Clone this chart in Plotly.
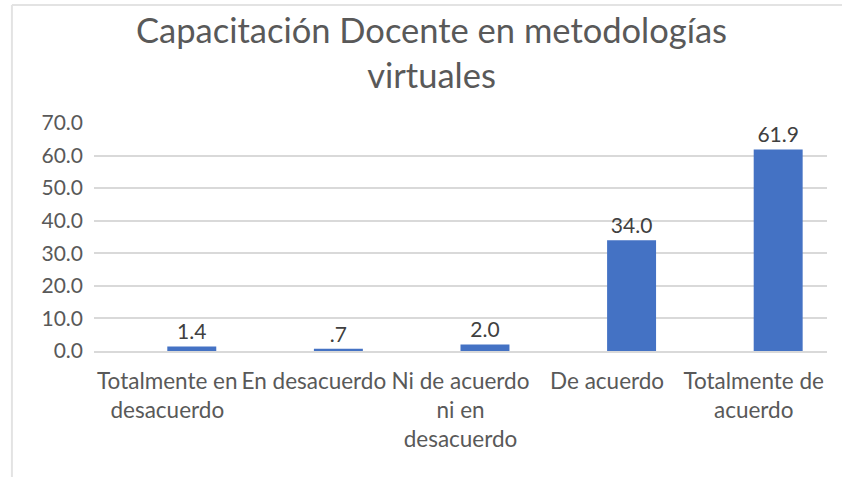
import plotly.graph_objects as go

categories = [
    "Totalmente en<br>desacuerdo",
    "En desacuerdo",
    "Ni de acuerdo<br>ni en<br>desacuerdo",
    "De acuerdo",
    "Totalmente de<br>acuerdo",
]
values = [1.4, 0.7, 2.0, 34.0, 61.9]
value_labels = ["1.4", ".7", "2.0", "34.0", "61.9"]
y_tickvals = [0, 10, 20, 30, 40, 50, 60, 70]
y_ticktext = ["0.0", "10.0", "20.0", "30.0", "40.0", "50.0", "60.0", "70.0"]
title_text = "Capacitación Docente en metodologías<br>virtuales"

FONT = "Lato"
GRAY = "#595959"

fig = go.Figure(
    go.Bar(
        x=categories,
        y=values,
        text=value_labels,
        textposition="outside",
        textfont=dict(family=FONT, size=21, color="#404040"),
        marker=dict(color="#4472C4", line=dict(width=0)),
        width=0.334,
        offset=0,
        cliponaxis=False,
        hoverinfo="skip",
    )
)

fig.update_layout(
    width=842,
    height=477,
    margin=dict(l=94, r=15, t=123, b=126, autoexpand=False),
    paper_bgcolor="white",
    plot_bgcolor="white",
    showlegend=False,
    font=dict(family=FONT, color=GRAY),
    annotations=[
        dict(
            text=title_text,
            xref="paper",
            yref="paper",
            x=0.461,
            y=1.0,
            yshift=116,
            xanchor="center",
            yanchor="top",
            showarrow=False,
            font=dict(family=FONT, size=34.5, color=GRAY, weight=400),
        )
    ],
    shapes=[
        dict(
            type="line", xref="paper", yref="paper",
            x0=-0.112, x1=1.2, y0=1.518, y1=1.518,
            line=dict(color="#E3E3E3", width=2),
        ),
        dict(
            type="line", xref="paper", yref="paper",
            x0=-0.112, x1=-0.112, y0=1.518, y1=-0.7,
            line=dict(color="#E3E3E3", width=2),
        ),
    ],
)

fig.update_yaxes(
    range=[0, 70],
    tickvals=y_tickvals,
    ticktext=y_ticktext,
    tickfont=dict(family=FONT, size=21, color=GRAY),
    showgrid=True,
    gridcolor="#D9D9D9",
    gridwidth=1.5,
    zeroline=False,
    showline=False,
    ticks="",
    ticklabelstandoff=10,
    automargin=False,
)
fig.update_xaxes(
    tickfont=dict(family=FONT, size=22.5, color=GRAY),
    showline=True,
    linecolor="#D9D9D9",
    linewidth=1.5,
    ticks="",
    ticklabelstandoff=9,
    automargin=False,
)

fig.write_html(
    "out.html",
    config={"displayModeBar": False},
    post_script="document.body.style.margin='0px';document.body.style.overflow='hidden';",
)
